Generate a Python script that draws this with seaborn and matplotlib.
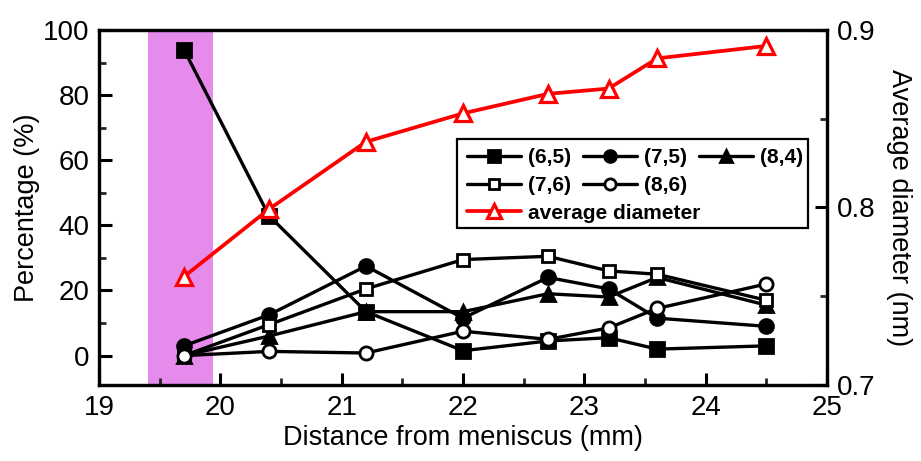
import matplotlib
matplotlib.use("Agg")
import matplotlib.pyplot as plt
from matplotlib.patches import Rectangle
from matplotlib.ticker import MultipleLocator
import seaborn as sns

# Distance from meniscus (mm) at each sampling position
distance = [19.7, 20.4, 21.2, 22.0, 22.7, 23.2, 23.6, 24.5]

# Chirality abundance (%)
pct_65 = [94, 43, 13.5, 1.5, 4.5, 5.5, 2, 3]
pct_75 = [3, 12.5, 27.5, 11.5, 24, 20.5, 11.5, 9]
pct_84 = [0, 6, 13.5, 13.5, 19, 18, 24, 15.5]
pct_76 = [0, 9.5, 20.5, 29.5, 30.5, 26, 25, 17]
pct_86 = [0, 1.3, 0.8, 7.5, 5, 8.5, 14.5, 22]

# Average tube diameter (nm)
avg_diameter = [0.761, 0.799, 0.837, 0.853, 0.864, 0.867, 0.884, 0.891]

chirality_labels = ["(6,5)", "(7,5)", "(8,4)", "(7,6)", "(8,6)"]
diameter_label = "average diameter"
shade_range = (19.4, 19.94)

sns.set_style("ticks")
plt.rcParams["font.family"] = ["Liberation Sans", "DejaVu Sans"]
plt.rcParams["text.color"] = "black"
plt.rcParams["axes.labelcolor"] = "black"

fig = plt.figure(figsize=(9.21, 4.61), dpi=100)
ax = fig.add_axes([0.1075, 0.165, 0.7905, 0.77])
ax2 = ax.twinx()

ax.axvspan(*shade_range, color="#E68AEC", lw=0, zorder=0)

series = [pct_65, pct_75, pct_84, pct_76, pct_86]
styles = [
    dict(marker="s", markersize=9.5, markerfacecolor="black"),
    dict(marker="o", markersize=10, markerfacecolor="black"),
    dict(marker="^", markersize=10.5, markerfacecolor="black"),
    dict(marker="s", markersize=8.5, markerfacecolor="white"),
    dict(marker="o", markersize=9.5, markerfacecolor="white"),
]
for vals, lab, st in zip(series, chirality_labels, styles):
    sns.lineplot(x=distance, y=vals, ax=ax, color="black", lw=2.4,
                 markeredgecolor="black", markeredgewidth=2.0,
                 label=lab, legend=False, **st)

sns.lineplot(x=distance, y=avg_diameter, ax=ax2, color="#FF0000", lw=2.7,
             marker="^", markersize=11.5, markerfacecolor="white",
             markeredgecolor="#FF0000", markeredgewidth=2.3,
             label=diameter_label, legend=False)

for a in (ax, ax2):
    leg = a.get_legend()
    if leg is not None:
        leg.remove()

ax.set_xlim(19, 25)
ax.set_ylim(-9, 100)
ax2.set_ylim(0.7, 0.9)

ax.xaxis.set_major_locator(MultipleLocator(1))
ax.xaxis.set_minor_locator(MultipleLocator(0.5))
ax.yaxis.set_major_locator(MultipleLocator(20))
ax.yaxis.set_minor_locator(MultipleLocator(10))
ax2.yaxis.set_major_locator(MultipleLocator(0.1))
ax2.yaxis.set_minor_locator(MultipleLocator(0.05))

for a in (ax, ax2):
    for s in a.spines.values():
        s.set_linewidth(2.3)
        s.set_color("black")
    a.tick_params(which="major", direction="in", length=9, width=2.2,
                  labelsize=20, pad=7, colors="black")
    a.tick_params(which="minor", direction="in", length=5, width=2.0)
ax.tick_params(axis="x", which="both", top=False, bottom=True)
ax.tick_params(axis="y", which="both", right=False, left=True)
ax2.tick_params(axis="y", which="both", right=True, left=False)

ax.set_xlabel("Distance from meniscus (mm)", fontsize=19.5, labelpad=3)
ax.set_ylabel("Percentage (%)", fontsize=19.5, labelpad=2)
ax2.set_ylabel("Average diameter (nm)", fontsize=19.5, rotation=270,
               labelpad=26)

# Legend: framed box holding the chirality entries and the diameter entry
lines = ax.get_lines()
handles = {l.get_label(): l for l in lines}
order = ["(6,5)", "(7,6)", "(7,5)", "(8,6)", "(8,4)"]
frame = Rectangle((0.492, 0.442), 0.482, 0.251, transform=ax2.transAxes,
                  facecolor="white", edgecolor="black", lw=1.6, zorder=4)
ax2.add_patch(frame)
leg_kw = dict(frameon=False, borderpad=0, borderaxespad=0, handlelength=2.6,
              handletextpad=0.35, columnspacing=0.55, labelspacing=0.45,
              prop={"weight": "bold", "size": 15}, markerscale=0.85)
leg1 = ax2.legend([handles[k] for k in order], order, ncol=3,
                  loc="upper left", bbox_to_anchor=(0.505, 0.668), **leg_kw)
leg1.set_zorder(5)
ax2.add_artist(leg1)
red = ax2.get_lines()[0]
leg2 = ax2.legend([red], [diameter_label], loc="upper left",
                  bbox_to_anchor=(0.505, 0.511), **leg_kw)
leg2.set_zorder(5)

fig.savefig("out.png", dpi=100)
